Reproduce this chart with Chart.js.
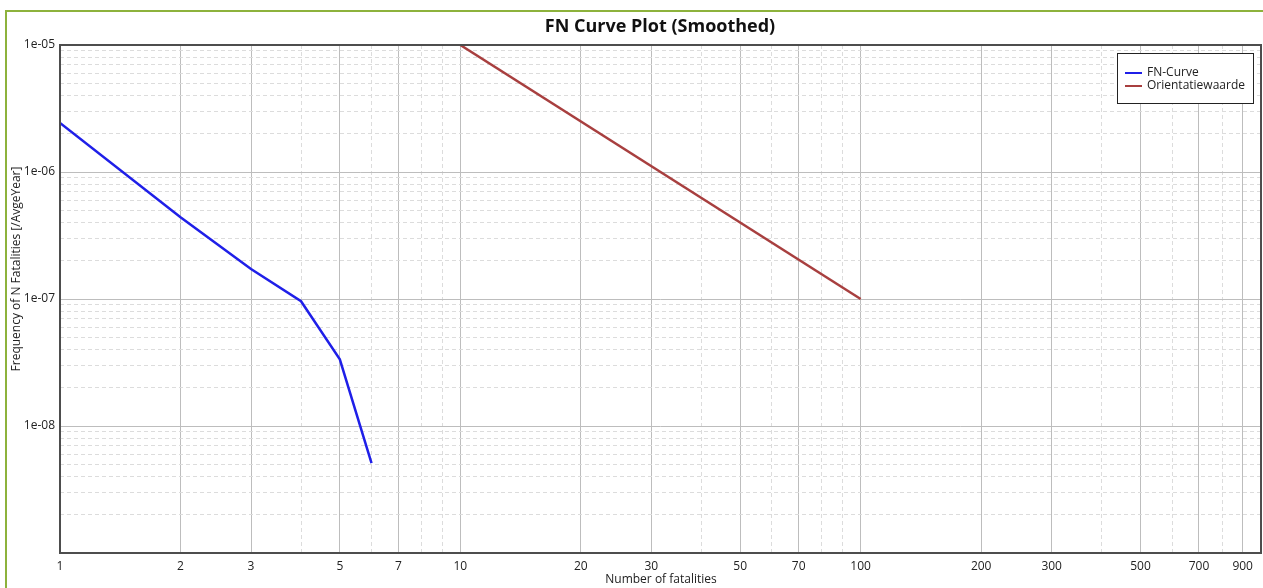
<!DOCTYPE html>
<html>
<head>
<meta charset="utf-8">
<script src="https://cdn.jsdelivr.net/npm/chart.js@4/dist/chart.umd.min.js"></script>
<style>
  html, body { margin: 0; padding: 0; background: #ffffff; }
  #wrap { width: 1263px; height: 588px; }
</style>
</head>
<body>
<div id="wrap"><canvas id="c" width="1263" height="588"></canvas></div>
<script>
// ---- data ----
const chartTitle = 'FN Curve Plot (Smoothed)';
const xAxisTitle = 'Number of fatalities';
const yAxisTitle = 'Frequency of N Fatalities [/AvgeYear]';

const fnLabel = 'FN-Curve';
const fnN = [1, 2, 3, 4, 5, 6];
const fnFreq = [2.43e-6, 4.4e-7, 1.72e-7, 9.6e-8, 3.35e-8, 5.1e-9];

const orLabel = 'Orientatiewaarde';
const orN = [10, 100];
const orFreq = [1e-5, 1e-7];

const xMajorTicks = [1, 2, 3, 5, 7, 10, 20, 30, 50, 70, 100, 200, 300, 500, 700, 900];
const xTickLabels = ['1', '2', '3', '5', '7', '10', '20', '30', '50', '70', '100', '200', '300', '500', '700', '900'];
const xMinorTicks = [4, 6, 8, 9, 40, 60, 80, 90, 400, 600, 800];

const yMajorTicks = [1e-5, 1e-6, 1e-7, 1e-8];
const yTickLabels = ['1e-05', '1e-06', '1e-07', '1e-08'];
const yMinorTicks = [
  2e-9, 3e-9, 4e-9, 5e-9, 6e-9, 7e-9, 8e-9, 9e-9,
  2e-8, 3e-8, 4e-8, 5e-8, 6e-8, 7e-8, 8e-8, 9e-8,
  2e-7, 3e-7, 4e-7, 5e-7, 6e-7, 7e-7, 8e-7, 9e-7,
  2e-6, 3e-6, 4e-6, 5e-6, 6e-6, 7e-6, 8e-6, 9e-6
];

// ---- styles ----
const FONT = '"Open Sans", "Noto Sans", sans-serif';
const fnColor = '#1f1fe8';
const orColor = '#a83f3f';
const majorGrid = '#bdbdbd';
const minorGrid = '#dcdcdc';

const pts = (xs, ys) => xs.map((x, i) => ({ x: x, y: ys[i] }));

const decorPlugin = {
  id: 'decor',
  beforeDraw(chart) {
    const ctx = chart.ctx;
    ctx.save();
    ctx.fillStyle = '#ffffff';
    ctx.fillRect(0, 0, chart.width, chart.height);
    // green outer frame
    ctx.strokeStyle = '#8db23c';
    ctx.lineWidth = 2;
    ctx.beginPath();
    ctx.moveTo(6, chart.height + 5);
    ctx.lineTo(6, 11);
    ctx.lineTo(chart.width + 5, 11);
    ctx.stroke();
    ctx.restore();
  },
  afterDraw(chart) {
    const ctx = chart.ctx;
    const a = chart.chartArea;
    ctx.save();
    // plot frame
    ctx.strokeStyle = '#4d4d4d';
    ctx.lineWidth = 2;
    ctx.strokeRect(a.left, a.top, a.right - a.left, a.bottom - a.top);
    // title
    ctx.fillStyle = '#111111';
    ctx.font = 'bold 18px ' + FONT;
    ctx.textAlign = 'center';
    ctx.textBaseline = 'middle';
    ctx.fillText(chartTitle, 660, 27);
    // axis titles
    ctx.font = '12px ' + FONT;
    ctx.fillStyle = '#222222';
    ctx.fillText(xAxisTitle, 661, 580);
    ctx.translate(17, 269);
    ctx.rotate(-Math.PI / 2);
    ctx.fillText(yAxisTitle, 0, 0);
    ctx.restore();

    // legend
    ctx.save();
    const lx = 1117, ly = 53, lw = 136, lh = 50;
    ctx.fillStyle = '#ffffff';
    ctx.fillRect(lx, ly, lw, lh);
    ctx.strokeStyle = '#222222';
    ctx.lineWidth = 1;
    ctx.strokeRect(lx + 0.5, ly + 0.5, lw, lh);
    ctx.font = '12px ' + FONT;
    ctx.textAlign = 'left';
    ctx.textBaseline = 'middle';
    chart.data.datasets.forEach((ds, i) => {
      const yy = ly + 20 + i * 13;
      ctx.strokeStyle = ds.borderColor;
      ctx.lineWidth = 2;
      ctx.beginPath();
      ctx.moveTo(lx + 8, yy);
      ctx.lineTo(lx + 25, yy);
      ctx.stroke();
      ctx.fillStyle = '#222222';
      ctx.fillText(ds.label, lx + 30, yy);
    });
    ctx.restore();
  }
};

new Chart(document.getElementById('c'), {
  type: 'scatter',
  data: {
    datasets: [
      { label: fnLabel, data: pts(fnN, fnFreq), showLine: true, borderColor: fnColor, backgroundColor: fnColor, borderWidth: 2.5, pointRadius: 0, tension: 0 },
      { label: orLabel, data: pts(orN, orFreq), showLine: true, borderColor: orColor, backgroundColor: orColor, borderWidth: 2.5, pointRadius: 0, tension: 0 }
    ]
  },
  options: {
    responsive: false,
    devicePixelRatio: 1,
    animation: false,
    layout: { padding: { top: 45, right: 2, left: 0, bottom: 0 } },
    plugins: { legend: { display: false }, title: { display: false }, tooltip: { enabled: false } },
    scales: {
      x: {
        type: 'logarithmic', position: 'bottom', min: 1, max: 1000,
        afterBuildTicks: s => { s.ticks = xMajorTicks.map(v => ({ value: v })); },
        afterFit: s => { s.height = 35; },
        ticks: { autoSkip: false, maxRotation: 0, padding: 6, color: '#222222', font: { family: FONT, size: 12 },
                 callback: (v, i) => xTickLabels[i] },
        grid: { color: majorGrid, lineWidth: 1, drawTicks: false },
        border: { display: false }
      },
      x2: {
        type: 'logarithmic', position: 'bottom', min: 1, max: 1000,
        afterBuildTicks: s => { s.ticks = xMinorTicks.map(v => ({ value: v })); },
        afterFit: s => { s.height = 0; },
        ticks: { display: false },
        grid: { color: minorGrid, lineWidth: 1, drawTicks: false },
        border: { display: false, dash: [4, 3] }
      },
      y: {
        type: 'logarithmic', position: 'left', min: 1e-9, max: 1e-5,
        afterBuildTicks: s => { s.ticks = yMajorTicks.map(v => ({ value: v })); },
        afterFit: s => { s.width = 60; },
        ticks: { autoSkip: false, padding: 5, color: '#222222', font: { family: FONT, size: 12 },
                 callback: (v, i) => yTickLabels[i] },
        grid: { color: majorGrid, lineWidth: 1, drawTicks: false },
        border: { display: false }
      },
      y2: {
        type: 'logarithmic', position: 'left', min: 1e-9, max: 1e-5,
        afterBuildTicks: s => { s.ticks = yMinorTicks.map(v => ({ value: v })); },
        afterFit: s => { s.width = 0; },
        ticks: { display: false },
        grid: { color: minorGrid, lineWidth: 1, drawTicks: false },
        border: { display: false, dash: [4, 3] }
      }
    }
  },
  plugins: [decorPlugin]
});
</script>
</body>
</html>
